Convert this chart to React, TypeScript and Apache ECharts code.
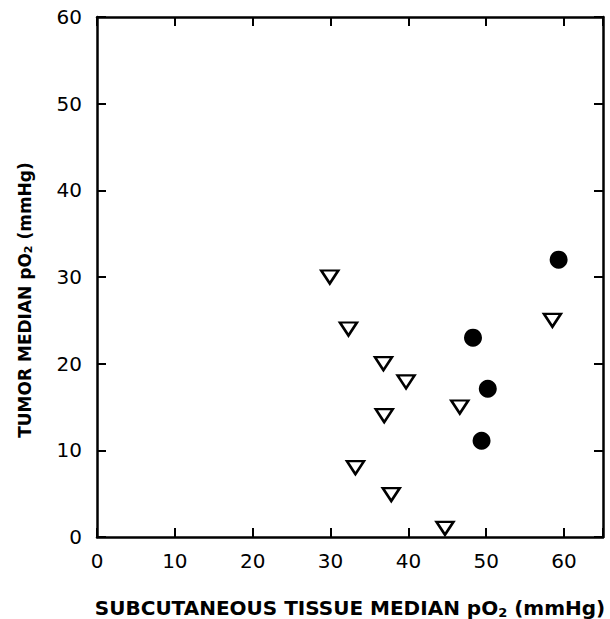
import React, { useEffect, useRef } from "react";
import * as echarts from "echarts";

const triangleX = [29.9, 32.3, 36.8, 39.7, 36.9, 33.2, 37.8, 44.7, 46.6, 58.5];
const triangleY = [30.0, 24.0, 20.0, 17.9, 14.0, 8.0, 4.9, 1.0, 15.0, 25.0];
const circleX = [59.3, 48.3, 50.2, 49.4];
const circleY = [32.0, 23.0, 17.1, 11.1];

const xTicks = [0, 10, 20, 30, 40, 50, 60];
const yTicks = [0, 10, 20, 30, 40, 50, 60];

const FONT = "DejaVu Sans";

export default function App() {
  const ref = useRef<HTMLDivElement>(null);
  useEffect(() => {
    if (!ref.current) return;
    const chart = echarts.init(ref.current, undefined, { renderer: "svg" });
    const tri = triangleX.map((x, i) => [x, triangleY[i]]);
    const cir = circleX.map((x, i) => [x, circleY[i]]);
    const axisLine = { show: true, onZero: false, lineStyle: { color: "#000", width: 2.5 } };
    const axisTick = { show: true, inside: true, length: 9, lineStyle: { color: "#000", width: 2 } };
    const richFor = (size: number, subSize: number, pad: number) => ({
      t: { fontFamily: FONT, fontWeight: "bold", fontSize: size, color: "#000" },
      sub: { fontFamily: FONT, fontWeight: "bold", fontSize: subSize, color: "#000", padding: [pad, 0, 0, 0] },
    });
    chart.setOption({
      animation: false,
      backgroundColor: "#fff",
      grid: { left: 97, right: 7, top: 17, bottom: 82, containLabel: false, outerBoundsMode: "none" },
      xAxis: [
        {
          type: "value",
          min: 0,
          max: 65,
          interval: 10,
          axisLine,
          axisTick,
          splitLine: { show: false },
          axisLabel: {
            fontFamily: FONT,
            fontSize: 20,
            color: "#000",
            margin: 14,
            formatter: (v: number) => (xTicks.includes(v) ? String(v) : ""),
          },
          name: "{t|SUBCUTANEOUS TISSUE MEDIAN pO}{sub|2}{t| (mmHg)}",
          nameLocation: "middle",
          nameGap: 60,
          nameTextStyle: { rich: richFor(20, 13, 9) },
        },
        {
          type: "value",
          position: "top",
          min: 0,
          max: 65,
          interval: 10,
          axisLine,
          axisTick,
          splitLine: { show: false },
          axisLabel: { show: false },
        },
      ],
      yAxis: [
        {
          type: "value",
          min: 0,
          max: 60,
          interval: 10,
          axisLine,
          axisTick,
          splitLine: { show: false },
          axisLabel: {
            fontFamily: FONT,
            fontSize: 20,
            color: "#000",
            margin: 15,
            formatter: (v: number) => (yTicks.includes(v) ? String(v) : ""),
          },
          name: "{t|TUMOR MEDIAN pO}{sub|2}{t| (mmHg)}",
          nameLocation: "middle",
          nameGap: 63,
          nameTextStyle: { rich: richFor(17, 11, 8), padding: [0, 46, 0, 0] },
        },
        {
          type: "value",
          position: "right",
          min: 0,
          max: 60,
          interval: 10,
          axisLine,
          axisTick,
          splitLine: { show: false },
          axisLabel: { show: false },
        },
      ],
      series: [
        {
          type: "scatter",
          data: tri,
          symbol: "triangle",
          symbolRotate: 180,
          symbolSize: [17, 13],
          itemStyle: { color: "#fff", borderColor: "#000", borderWidth: 2.5, opacity: 1 },
        },
        {
          type: "scatter",
          data: cir,
          symbol: "circle",
          symbolSize: 18,
          itemStyle: { color: "#000", opacity: 1 },
        },
      ],
    });
    return () => chart.dispose();
  }, []);
  return <div ref={ref} style={{ width: 610, height: 619, position: "absolute", left: 0, top: 0 }} />;
}
